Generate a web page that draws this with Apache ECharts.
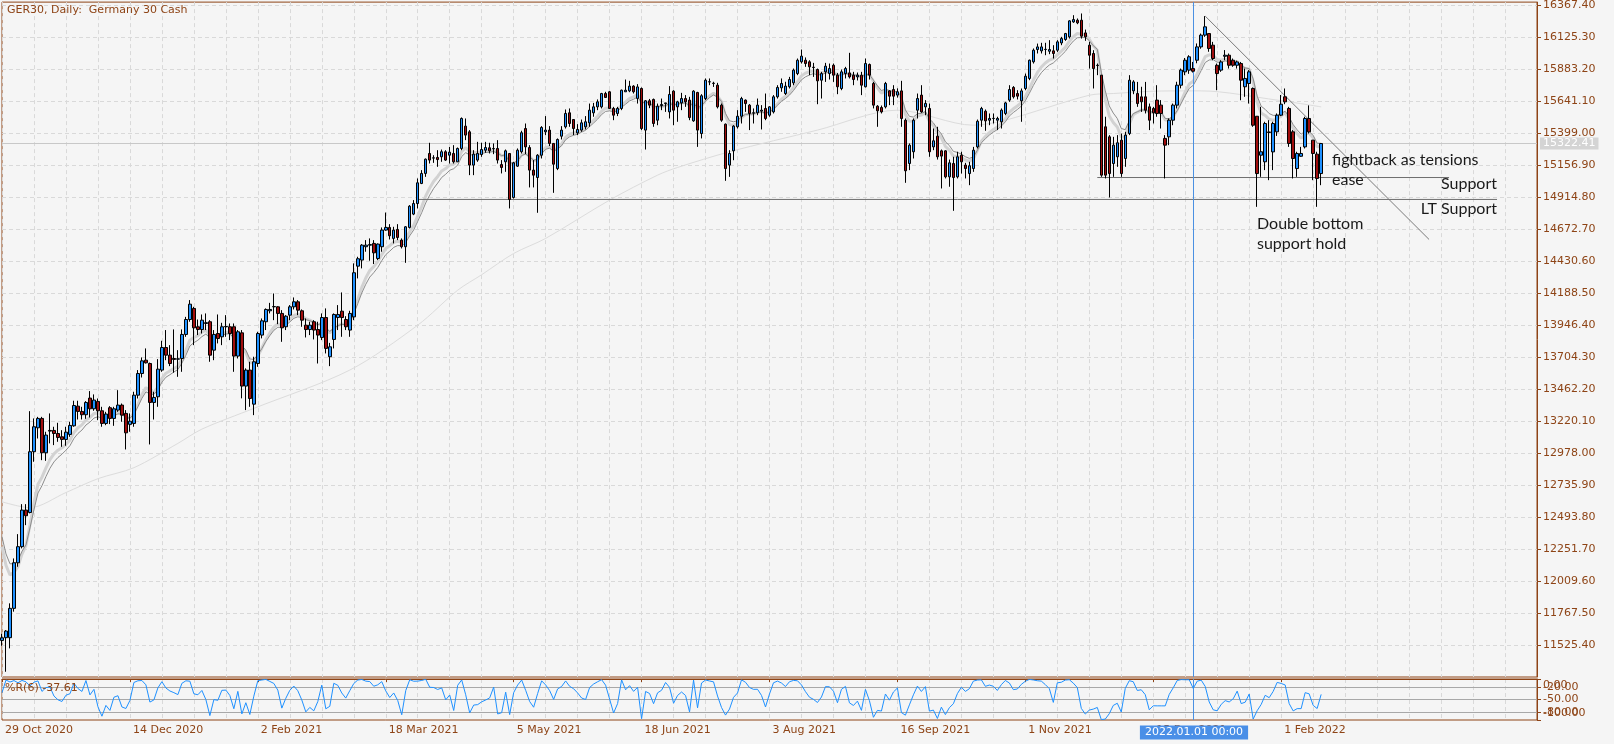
<!DOCTYPE html>
<html><head><meta charset="utf-8">
<script src="https://cdn.jsdelivr.net/npm/echarts@6.0.0/dist/echarts.min.js"></script>
<style>html,body{margin:0;padding:0;background:#f5f5f5;}#c{width:1614px;height:744px;}</style>
</head><body><div id="c"></div>
<script>
// ---- DATA ----
// daily bars, ECharts order: [open, close, low, high]
const ohlc = [
[11560,11580,11520,11610],[11581,11631,11323,11639],[11581,11803,11500,11841],[11803,12148,11778,12181],[12148,12270,12118,12365],
[12270,12547,12257,12592],[12547,12504,12433,12592],[12529,12989,12522,13296],[12989,13178,12913,13241],[13170,13241,13089,13253],
[13241,12981,12925,13253],[12981,13115,12920,13140],[13150,13145,13052,13279],[13150,13127,13039,13178],[13127,13097,13064,13208],
[13102,13082,13026,13152],[13082,13137,13034,13178],[13120,13188,13102,13216],[13185,13339,13178,13375],[13334,13294,13233,13375],
[13294,13269,13233,13329],[13269,13362,13238,13372],[13395,13314,13248,13448],[13314,13380,13299,13423],[13370,13299,13228,13392],
[13299,13203,13178,13329],[13203,13274,13190,13291],[13322,13241,13198,13334],[13241,13314,13185,13329],[13304,13342,13291,13455],
[13342,13266,13216,13354],[13279,13132,13006,13304],[13196,13220,13140,13279],[13203,13417,13178,13443],[13417,13581,13392,13607],
[13581,13677,13551,13703],[13682,13662,13657,13771],[13657,13362,13044,13664],[13362,13400,13233,13443],[13405,13614,13329,13690],
[13607,13778,13594,13829],[13778,13720,13682,13910],[13720,13657,13637,13796],[13695,13688,13587,13915],[13690,13692,13556,13758],
[13695,13877,13594,13915],[13877,13990,13859,14010],[13990,14106,13973,14137],[14074,13927,13796,14086],[13935,13914,13872,13990],
[13914,13985,13884,14028],[13960,13966,13910,14036],[13973,13720,13670,13985],[13758,13877,13682,13910],[13884,13846,13809,14028],
[13859,13935,13796,13965],[13935,13937,13859,14023],[13935,13884,13834,13960],[13935,13713,13594,13960],[13713,13897,13695,13910],
[13889,13486,13393,13910],[13486,13607,13304,13620],[13607,13392,13329,13670],[13349,13670,13266,13708],[13657,13884,13632,13897],
[13872,13980,13847,13998],[13973,14066,13910,14074],[14056,14066,14036,14116],[14086,14088,13985,14187],[14086,14036,13955,14091],
[14036,13927,13821,14061],[13935,14015,13910,14023],[14023,14086,13985,14099],[14086,14124,14066,14157],[14124,14061,14023,14137],
[14056,13985,13935,14066],[13947,13914,13854,13998],[13914,13947,13872,13973],[13973,13910,13839,13985],[13914,13872,13657,13973],
[13854,14005,13834,14036],[14005,13771,13733,14074],[13708,13783,13637,13813],[13839,14028,13771,14036],[14005,14028,13910,14099],
[14053,14005,13859,14195],[13990,13935,13910,14015],[13910,14036,13859,14056],[14010,14344,13985,14415],[14394,14450,14301,14465],
[14440,14553,14377,14561],[14541,14553,14503,14591],[14553,14557,14435,14604],[14566,14495,14410,14591],[14452,14561,14440,14566],
[14541,14667,14503,14687],[14667,14687,14662,14800],[14687,14624,14596,14712],[14604,14667,14566,14692],[14672,14611,14591,14712],
[14591,14541,14528,14604],[14541,14692,14419,14697],[14687,14848,14679,14856],[14788,14868,14780,14894],[14868,15025,14831,15058],
[15020,15096,15015,15121],[15096,15204,15070,15209],[15247,15197,15171,15328],[15212,15214,15176,15234],[15217,15201,15146,15272],
[15222,15260,15184,15277],[15260,15197,15190,15272],[15234,15257,15171,15297],[15247,15184,15171,15310],[15184,15285,15184,15292],
[15285,15512,15272,15520],[15454,15386,15348,15512],[15411,15159,15083,15424],[15159,15242,15083,15272],[15197,15247,15184,15335],
[15239,15277,15222,15328],[15272,15292,15252,15335],[15290,15267,15247,15328],[15283,15285,15242,15323],[15285,15197,15171,15348],
[15163,15141,15096,15197],[15184,15267,15108,15277],[15247,14899,14831,15247],[14914,15176,14906,15184],[15151,15272,15146,15285],
[15260,15404,15247,15419],[15436,15297,15242,15474],[15292,15121,14990,15310],[15121,15083,14990,15197],[15065,15234,14798,15242],
[15234,15444,15209,15454],[15411,15424,15386,15530],[15424,15323,15303,15454],[15323,15166,14949,15323],[15133,15353,15121,15361],
[15378,15424,15353,15454],[15449,15550,15436,15580],[15555,15474,15449,15588],[15504,15436,15386,15504],[15403,15429,15386,15469],
[15424,15479,15411,15504],[15449,15487,15429,15530],[15479,15575,15449,15625],[15555,15600,15525,15630],[15600,15638,15575,15656],
[15600,15701,15588,15706],[15701,15671,15668,15714],[15714,15588,15588,15721],[15588,15537,15499,15600],[15550,15588,15530,15600],
[15588,15726,15575,15731],[15714,15726,15714,15807],[15721,15757,15711,15797],[15757,15714,15701,15764],[15664,15751,15625,15772],
[15739,15436,15424,15747],[15424,15646,15277,15651],[15646,15613,15590,15660],[15656,15474,15449,15663],[15499,15605,15461,15625],
[15610,15618,15575,15663],[15625,15630,15562,15631],[15562,15694,15512,15757],[15719,15575,15461,15726],[15600,15638,15487,15646],
[15630,15663,15575,15706],[15663,15638,15600,15689],[15651,15519,15499,15676],[15494,15719,15487,15726],[15709,15424,15297,15714],
[15398,15684,15361,15696],[15663,15802,15651,15815],[15789,15790,15764,15815],[15777,15779,15751,15790],[15764,15600,15588,15782],
[15613,15499,15487,15625],[15469,15133,15040,15474],[15159,15247,15070,15272],[15267,15454,15196,15461],[15449,15529,15436,15575],
[15529,15663,15474,15676],[15651,15625,15562,15656],[15613,15550,15424,15621],[15553,15555,15474,15588],[15555,15613,15537,15663],
[15568,15575,15429,15613],[15588,15512,15499,15701],[15537,15600,15525,15605],[15562,15676,15550,15689],[15676,15747,15663,15764],
[15744,15777,15714,15815],[15701,15757,15690,15790],[15752,15807,15739,15827],[15782,15878,15764,15890],[15852,15953,15840,15966],
[15941,15984,15928,16034],[15953,15928,15903,15974],[15941,15903,15840,15953],[15898,15900,15827,15933],[15883,15797,15620,15890],
[15802,15852,15663,15865],[15865,15908,15789,15933],[15852,15890,15807,15928],[15915,15840,15789,15928],[15840,15752,15696,15857],
[15739,15865,15726,15883],[15852,15890,15815,15903],[15857,15827,15815,16009],[15840,15807,15764,15865],[15827,15840,15800,15860],
[15840,15764,15689,15865],[15752,15928,15747,15966],[15921,15840,15807,15928],[15777,15613,15588,15789],[15605,15570,15449,15613],
[15595,15562,15550,15610],[15600,15777,15588,15789],[15721,15681,15613,15726],[15731,15681,15613,15764],[15689,15714,15670,15740],
[15721,15512,15449,15797],[15499,15116,15025,15512],[15171,15310,15121,15323],[15260,15499,15209,15512],[15575,15663,15512,15701],
[15689,15562,15555,15764],[15600,15626,15537,15651],[15588,15260,15222,15625],[15297,15343,15272,15436],[15378,15222,15201,15449],
[15267,15227,14982,15277],[15267,15070,15058,15272],[15070,15176,14995,15201],[15171,15065,14813,15222],[15070,15222,15058,15260],
[15234,15184,15095,15260],[15159,15133,15058,15176],[15095,15154,15007,15184],[15133,15272,15108,15297],[15297,15491,15285,15504],
[15499,15588,15449,15600],[15567,15494,15419,15580],[15499,15512,15461,15550],[15512,15513,15474,15550],[15499,15512,15424,15525],
[15487,15575,15436,15588],[15550,15630,15537,15638],[15651,15731,15638,15764],[15747,15676,15663,15757],[15701,15681,15656,15726],
[15646,15721,15487,15739],[15739,15832,15726,15852],[15815,15953,15802,15958],[15941,16029,15928,16042],[16034,16054,16004,16079],
[16024,16054,16004,16085],[16034,16036,15991,16085],[16021,16034,15999,16105],[16024,16004,15966,16067],[16029,16092,16016,16105],
[16084,16117,16067,16130],[16110,16155,16100,16160],[16130,16251,16117,16256],[16243,16261,16236,16294],[16256,16236,16226,16269],
[16256,16135,16117,16307],[16160,16130,16100,16185],[16067,15991,15890,16092],[16004,15890,15739,16029],[15915,15913,15840,15928],
[15840,15083,15070,15840],[15449,15083,15058,15525],[15373,15095,14914,15386],[15171,15310,15070,15373],[15222,15328,15146,15386],
[15348,15095,15070,15398],[15209,15386,15146,15411],[15398,15802,15386,15840],[15721,15789,15696,15802],[15701,15625,15600,15789],
[15676,15638,15562,15752],[15676,15575,15550,15789],[15600,15499,15424,15625],[15588,15555,15474,15600],[15651,15550,15525,15764],
[15613,15550,15436,15651],[15361,15310,15058,15386],[15373,15499,15310,15512],[15499,15613,15461,15625],[15613,15764,15588,15790],
[15764,15878,15740,15890],[15865,15953,15840,15970],[15878,15979,15850,15991],[15890,15870,15860,15940],[15953,16054,15930,16080],
[16054,16143,16040,16155],[16143,16206,16130,16287],[16155,16042,16017,16155],[16067,15966,15953,16092],[15915,15852,15726,15928],
[15878,15940,15865,15953],[15983,15991,15953,16030],[15991,15915,15890,16004],[15953,15915,15903,15966],[15915,15940,15890,15950],
[15928,15802,15650,15940],[15752,15815,15676,15890],[15777,15865,15625,15878],[15739,15461,15449,15747],[15529,15095,14843,15529],
[15234,15260,15070,15600],[15184,15474,15121,15487],[15410,15406,15045,15499],[15259,15474,15121,15487],[15411,15537,15380,15550],
[15537,15620,15530,15690],[15676,15638,15620,15739],[15588,15323,15297,15600],[15411,15209,15058,15424],[15133,15247,15070,15260],
[15226,15247,15222,15297],[15297,15512,15285,15525],[15512,15411,15398,15611],[15348,15247,15045,15348],[15242,15058,14843,15260],
[15095,15322.41,15007,15323]
];
// moving-average starting levels at the first bar
const fastMAStart = 12270;  // thick light grey average
const slowMAStart = 12345;  // thin dark grey average
// long moving average, read at points: [bar index, value]
const longMA = [[0,12610],[7,12565],[16,12680],[24,12785],[33,12868],[44,13052],[50,13160],[63,13317],[87,13607],[104,13947],
  [114,14212],[120,14329],[128,14490],[136,14604],[152,14894],[164,15083],[169,15141],[182,15260],[204,15424],[224,15575],[243,15461],
  [251,15499],[272,15688],[278,15701],[290,15720],[300,15721],[319,15651],[330,15600]];
// hand-drawn lines: [bar index, price]
const ltSupport = [[104,14899],[374,14899]];
const support = [[274,15065],[362,15065]];
const downTrend = [[301,16287],[357,14596]];
const newYearBar = 298;
const lastPrice = 15322.41;
const wrLevels = [-20,-50,-80];
// tick labels
const xTickLabels = ['29 Oct 2020','14 Dec 2020','2 Feb 2021','18 Mar 2021','5 May 2021','18 Jun 2021','3 Aug 2021','16 Sep 2021','1 Nov 2021','15 Dec 2021','1 Feb 2022'];
const xTickEvery = 32;
const yTicks = [11525.4,11767.5,12009.6,12251.7,12493.8,12735.9,12978.0,13220.1,13462.2,13704.3,13946.4,14188.5,14430.6,14672.7,14914.8,15156.9,15399.0,15641.1,15883.2,16125.3,16367.4];
const wrInnerTicks = [-20,-50,-80];
const wrEdgeTicks = [0,-100];
const SLOTS = 385; // bars plus empty space on the right

// ---- indicators derived from the bars ----
const close = ohlc.map(r=>r[1]);
function ema(n, start){ const a = 2/(n+1); const out=[]; let v=start; close.forEach((c,i)=>{ if(i>0) v = v + a*(c-v); out.push(+v.toFixed(2)); }); return out; }
const wr = ohlc.map((r,i)=>{ let hh=-Infinity, ll=Infinity; for(let k=Math.max(0,i-5);k<=i;k++){ hh=Math.max(hh,ohlc[k][3]); ll=Math.min(ll,ohlc[k][2]); } return hh===ll? -50 : +(((hh-r[1])/(hh-ll))*-100).toFixed(2); });

const BROWN = '#8e4416';
const FONT = 'DejaVu Sans';
const GRIDC = '#d9d9d9';
const categories = Array.from({length:SLOTS},(_,i)=>String(i));

const chart = echarts.init(document.getElementById('c'), null, {width:1614, height:744});
const axisTxt = {color:BROWN, fontFamily:FONT, fontSize:11};
chart.setOption({
  animation:false,
  backgroundColor:'#f5f5f5',
  grid:[
    {left:2, top:2, right:77, height:675, show:true, borderColor:BROWN, borderWidth:1, backgroundColor:'transparent'},
    {left:2, top:679, right:77, height:41, show:true, borderColor:BROWN, borderWidth:1, backgroundColor:'transparent'}
  ],
  xAxis:[
    {type:'category', gridIndex:0, data:categories, boundaryGap:false, axisLine:{show:false}, axisTick:{show:false}, axisLabel:{show:false},
     splitLine:{show:true, interval:(i)=>i%8===0, lineStyle:{color:GRIDC, type:[4,3]}}},
    {type:'category', gridIndex:1, data:categories, boundaryGap:false,
     axisLine:{show:true, lineStyle:{color:BROWN}},
     axisTick:{show:true, length:3, interval:(i)=>i%xTickEvery===0 && i/xTickEvery<xTickLabels.length, lineStyle:{color:BROWN}},
     axisLabel:Object.assign({show:true, margin:5, align:'left', padding:[0,0,0,3],
        interval:(i)=>i%xTickEvery===0 && i/xTickEvery<xTickLabels.length,
        formatter:(v,i)=>xTickLabels[Math.round(+v/xTickEvery)]||''}, axisTxt),
     splitLine:{show:true, interval:(i)=>i%8===0, lineStyle:{color:GRIDC, type:[4,3]}}}
  ],
  yAxis:[
    {type:'value', gridIndex:0, position:'right', min:11283.3, max:16393.05, interval:242.1, scale:true,
     axisLine:{show:true, lineStyle:{color:BROWN}},
     axisTick:{show:true, length:4, customValues:yTicks, lineStyle:{color:BROWN}},
     axisLabel:Object.assign({margin:6, customValues:yTicks, formatter:(v)=>(+v).toFixed(2)}, axisTxt),
     splitLine:{show:true, lineStyle:{color:GRIDC, type:[4,3]}}},
    {type:'value', gridIndex:1, position:'right', min:-100, max:0, interval:10,
     axisLine:{show:true, lineStyle:{color:BROWN}},
     axisTick:{show:true, length:4, customValues:wrInnerTicks, lineStyle:{color:BROWN}},
     axisLabel:Object.assign({margin:6, customValues:wrInnerTicks, formatter:(v)=>(+v).toFixed(2)}, axisTxt),
     splitLine:{show:false}},
    {type:'value', gridIndex:1, position:'right', min:-100, max:0, interval:10,
     axisLine:{show:false},
     axisTick:{show:true, length:4, customValues:wrEdgeTicks, lineStyle:{color:BROWN}},
     axisLabel:Object.assign({margin:6, customValues:wrEdgeTicks, showMinLabel:true, showMaxLabel:true,
        formatter:(v)=> (+v===0) ? '{dn|0.00}' : '{up|-100.00}',
        rich:{dn:{padding:[13,0,0,0], color:BROWN, fontFamily:FONT, fontSize:11}, up:{padding:[0,0,13,0], color:BROWN, fontFamily:FONT, fontSize:11}}}, axisTxt),
     splitLine:{show:false}}
  ],
  series:[
    {name:'longMA', type:'line', xAxisIndex:0, yAxisIndex:0, data:longMA, symbol:'none', smooth:0.3, z:1,
     lineStyle:{color:'#dcdcdc', width:1}, silent:true,
     markLine:{symbol:'none', silent:true, animation:false, z:1,
       lineStyle:{color:'#c8c8c8', width:1, type:'solid'},
       label:{show:true, position:'end', distance:3, formatter:()=>lastPrice.toFixed(2), color:'#ffffff', backgroundColor:'#d4d4d4',
              padding:[1,3,0,3], fontFamily:FONT, fontSize:11},
       data:[{yAxis:lastPrice}]}},
    {name:'fastMA', type:'line', xAxisIndex:0, yAxisIndex:0, data:ema(8, fastMAStart), symbol:'none', z:2, lineStyle:{color:'#d2d2d2', width:3}, silent:true},
    {name:'slowMA', type:'line', xAxisIndex:0, yAxisIndex:0, data:ema(10, slowMAStart), symbol:'none', z:3, lineStyle:{color:'#8c8c8c', width:1}, silent:true},
    {name:'lt', type:'line', xAxisIndex:0, yAxisIndex:0, data:ltSupport, symbol:'none', z:4, lineStyle:{color:'#6e6e6e', width:1}, silent:true},
    {name:'sup', type:'line', xAxisIndex:0, yAxisIndex:0, data:support, symbol:'none', z:4, lineStyle:{color:'#6e6e6e', width:1}, silent:true},
    {name:'trend', type:'line', xAxisIndex:0, yAxisIndex:0, data:downTrend, symbol:'none', z:4, lineStyle:{color:'#7a7a7a', width:1}, silent:true},
    {name:'GER30', type:'candlestick', xAxisIndex:0, yAxisIndex:0, data:ohlc, barWidth:3, z:5,
     itemStyle:{color:'#1e90ff', color0:'#a00d0d', borderColor:'#000000', borderColor0:'#000000', borderWidth:1},
     markLine:{symbol:'none', silent:true, animation:false, label:{show:false},
       lineStyle:{color:'#4a90e2', width:1, type:'solid'}, data:[{xAxis:newYearBar}]}},
    {name:'%R(6)', type:'line', xAxisIndex:1, yAxisIndex:1, data:wr, symbol:'none', z:5, lineStyle:{color:'#1e90ff', width:1}, silent:true,
     markLine:{symbol:'none', silent:true, animation:false, label:{show:false},
       data:[...wrLevels.map(v=>({yAxis:v, lineStyle:{color:'#a8a8a8', width:1, type:'solid'}})),
             {xAxis:newYearBar, lineStyle:{color:'#4a90e2', width:1, type:'solid'}}]}}
  ],
  graphic:[
    {type:'text', left:7, top:5, z:50, style:{text:'GER30, Daily:  Germany 30 Cash', fill:BROWN, font:'11px "DejaVu Sans"'}},
    {type:'text', left:5, top:683, z:50, style:{text:'%R(6) -37.61', fill:BROWN, font:'11px "DejaVu Sans"'}},
    {type:'text', x:1332, y:159.5, z:50, style:{text:'fightback as tensions', fill:'#1a1a1a', font:'16px Lato', verticalAlign:'middle'}},
    {type:'text', x:1332, y:179.5, z:50, style:{text:'ease', fill:'#1a1a1a', font:'16px Lato', verticalAlign:'middle'}},
    {type:'text', x:1497, y:184, z:50, style:{text:'Support', fill:'#1a1a1a', font:'16px Lato', verticalAlign:'middle', align:'right'}},
    {type:'text', x:1497, y:209, z:50, style:{text:'LT Support', fill:'#1a1a1a', font:'16px Lato', verticalAlign:'middle', align:'right'}},
    {type:'text', x:1257, y:223.5, z:50, style:{text:'Double bottom', fill:'#1a1a1a', font:'16px Lato', verticalAlign:'middle'}},
    {type:'text', x:1257, y:244, z:50, style:{text:'support hold', fill:'#1a1a1a', font:'16px Lato', verticalAlign:'middle'}},
    {type:'text', x:1194, y:732.5, z:60, style:{text:'2022.01.01 00:00', fill:'#ffffff', font:'11px "DejaVu Sans"', align:'center', verticalAlign:'middle',
      backgroundColor:'#4a8fe7', padding:[2,5,1,5]}}
  ]
});
</script></body></html>
